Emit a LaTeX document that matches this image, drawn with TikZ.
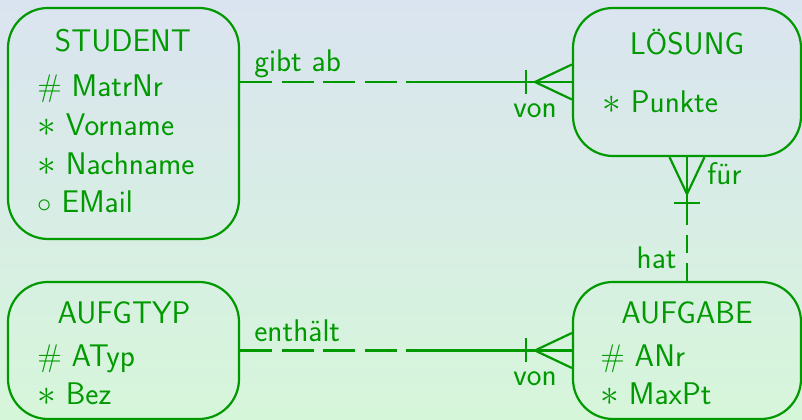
\documentclass[tikz,border=0pt]{standalone}
\usepackage{tikz}
\definecolor{ergreen}{RGB}{0,153,0}
\definecolor{bgtop}{RGB}{218,228,240}
\definecolor{bgbottom}{RGB}{214,246,218}
\newcommand{\attrstar}{\raisebox{-0.3bp}{\scalebox{1.3}{$\ast$}}}
\tikzset{
	ent/.style={draw=ergreen, line width=1.1pt, rounded corners=20bp, inner sep=0pt},
	txt/.style={ergreen, inner sep=0pt, font=\sffamily\fontsize{15.7}{19}\selectfont},
	rel/.style={ergreen, line width=1.1pt},
	halfopt/.style={rel, dash pattern=on 16bp off 4.75bp},
	halfoptv/.style={rel, dash pattern=on 9bp off 5bp}
}
\begin{document}
\begin{tikzpicture}[x=0.5bp, y=0.5bp]
		\shade[top color=bgtop, bottom color=bgbottom] (0,0) rectangle (802,420);
		\useasboundingbox (0,0) rectangle (802,420);
		% entities
		\node[ent, minimum width=115.5bp, minimum height=115.5bp] (student) at (123.5,296.5) {};
		\node[ent, minimum width=114bp, minimum height=74bp] (loesung) at (687,338) {};
		\node[ent, minimum width=115.5bp, minimum height=68.5bp] (aufgtyp) at (123.5,69.5) {};
		\node[ent, minimum width=114bp, minimum height=68.5bp] (aufgabe) at (687,69.5) {};
		\node[txt, anchor=base] (studentT) at (123,368) {STUDENT};
		\node[txt, anchor=base west] (matrnr) at (37,323) {\# MatrNr};
		\node[txt, anchor=base west] (vorname) at (37,284) {\attrstar{} Vorname};
		\node[txt, anchor=base west] (nachname) at (37,245) {\attrstar{} Nachname};
		\node[txt, anchor=base west] (email) at (37,207) {$\circ$ EMail};
		\node[txt, anchor=base] (loesungT) at (687,365) {LÖSUNG};
		\node[txt, anchor=base west] (punkte) at (602,307) {\attrstar{} Punkte};
		\node[txt, anchor=base] (aufgtypT) at (124,96) {AUFGTYP};
		\node[txt, anchor=base west] (atyp) at (37,53) {\# ATyp};
		\node[txt, anchor=base west] (bez) at (37,15) {\attrstar{} Bez};
		\node[txt, anchor=base] (aufgabeT) at (687,96) {AUFGABE};
		\node[txt, anchor=base west] (anr) at (600,53) {\# ANr};
		\node[txt, anchor=base west] (maxpt) at (600,15) {\attrstar{} MaxPt};
		% gibt ab / von
		\coordinate (gibt) at (406,338);
		\draw[halfopt] (student.east |- gibt) -- (gibt);
		\draw[rel] (gibt) -- (loesung.west);
		\draw[rel] ([shift={(-46,-12)}]loesung.west) -- ([shift={(-46,12)}]loesung.west);
		\draw[rel] ([shift={(0,17.5)}]loesung.west) -- ([shift={(-37,0)}]loesung.west) -- ([shift={(0,-17.5)}]loesung.west);
		\node[txt, anchor=base west] (gibtL) at (254,348) {gibt ab};
		\node[txt, anchor=base] (vonA) at (535,302) {von};
		% enthaelt / von
		\coordinate (enth) at (406,69.5);
		\draw[halfopt] (aufgtyp.east |- enth) -- (enth);
		\draw[rel] (enth) -- (aufgabe.west);
		\draw[rel] ([shift={(-46,-12)}]aufgabe.west) -- ([shift={(-46,12)}]aufgabe.west);
		\draw[rel] ([shift={(0,17.5)}]aufgabe.west) -- ([shift={(-37,0)}]aufgabe.west) -- ([shift={(0,-17.5)}]aufgabe.west);
		\node[txt, anchor=base west] (enthL) at (254,78) {enthält};
		\node[txt, anchor=base] (vonB) at (535,34) {von};
		% fuer / hat
		\coordinate (fuer) at (687,195);
		\draw[halfoptv] (aufgabe.north) -- (fuer);
		\draw[rel] (fuer) -- (loesung.south);
		\draw[rel] ([shift={(-13,-46)}]loesung.south) -- ([shift={(13,-46)}]loesung.south);
		\draw[rel] ([shift={(-17.5,0)}]loesung.south) -- ([shift={(0,-37)}]loesung.south) -- ([shift={(17.5,0)}]loesung.south);
		\node[txt, anchor=base west] (fuerL) at (707,235) {für};
		\node[txt, anchor=base east] (hatL) at (677,151) {hat};
	\end{tikzpicture}
\end{document}
